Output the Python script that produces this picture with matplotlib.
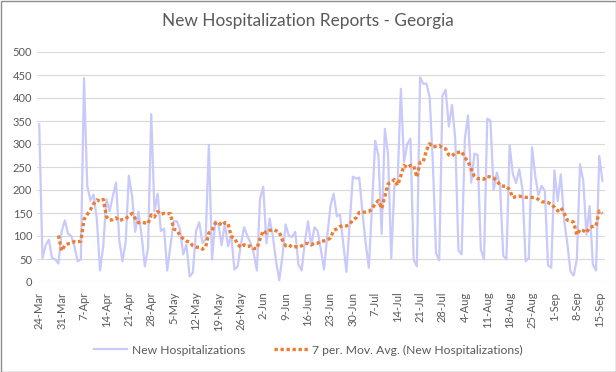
import numpy as np
import pandas as pd
import matplotlib
matplotlib.use("Agg")
import matplotlib.pyplot as plt
from matplotlib.patches import Rectangle

plt.rcParams['font.family'] = ['Lato', 'DejaVu Sans']

start_date = "2020-03-24"
new_hosp = [
    343, 52, 80, 92, 52, 49, 40, 110, 134, 105, 100, 78, 45, 49,
    443, 209, 177, 190, 136, 25, 78, 180, 154, 187, 216, 92, 45, 85,
    231, 187, 109, 153, 100, 34, 74, 365, 154, 192, 111, 116, 25, 78,
    132, 132, 114, 60, 81, 12, 20, 111, 130, 85, 92, 298, 49, 132,
    125, 80, 127, 78, 101, 27, 34, 81, 119, 101, 85, 63, 25, 181,
    207, 84, 138, 100, 45, 4, 56, 125, 100, 98, 109, 38, 25, 87,
    132, 78, 119, 111, 71, 27, 100, 165, 192, 143, 146, 85, 22, 125,
    229, 225, 227, 151, 85, 31, 165, 307, 274, 105, 333, 278, 52, 210,
    220, 420, 260, 300, 312, 49, 34, 445, 431, 431, 402, 260, 63, 47,
    405, 418, 338, 385, 311, 69, 60, 311, 362, 216, 279, 276, 71, 49,
    355, 351, 200, 238, 209, 57, 49, 297, 234, 215, 245, 202, 45, 52,
    293, 231, 189, 209, 198, 36, 31, 243, 176, 234, 136, 85, 23, 14,
    49, 256, 220, 103, 165, 38, 25, 274, 220,
]

dates = pd.date_range(start_date, periods=len(new_hosp), freq="D")
series = pd.Series(new_hosp, index=dates)
mov_avg = series.rolling(7).mean()

x = np.arange(len(series))
tick_pos = x[::7]
tick_labels = [f"{d.day}-{d.strftime('%b')}" for d in dates[::7]]

fig = plt.figure(figsize=(6.16, 3.72), dpi=100)
ax = fig.add_axes([37 / 616, 1 - 282 / 372, 568 / 616, 230 / 372])

ax.plot(x, series.values, color="#C9C9FA", lw=1.6, label="New Hospitalizations")
ax.plot(x, mov_avg.values, color="#ED7D31", lw=2.4, linestyle=(0, (1, 0.8)),
        label="7 per. Mov. Avg. (New Hospitalizations)")

ax.set_ylim(0, 500)
ax.set_yticks(np.arange(0, 501, 50))
ax.set_xlim(-0.7, len(series) - 0.2)
ax.set_xticks(tick_pos)
ax.set_xticklabels(tick_labels, rotation=90)
ax.grid(axis="y", color="#D9D9D9", lw=0.8)
ax.set_axisbelow(True)
for s in ax.spines.values():
    s.set_visible(False)
ax.axhline(0, color="#D9D9D9", lw=0.8, zorder=0)
ax.tick_params(length=0, labelsize=8, colors="#595959")
ax.tick_params(axis="x", pad=7)

fig.text(0.5, 1 - 21 / 372, "New Hospitalization Reports - Georgia",
         ha="center", va="center", fontsize=12.4, color="#595959")

leg = fig.legend(loc="center", bbox_to_anchor=(0.5, 1 - 350 / 372), ncol=2,
                 frameon=False, fontsize=8.7, handlelength=2.8,
                 handletextpad=0.35, columnspacing=2.4)
for t in leg.get_texts():
    t.set_color("#595959")

fig.patches.append(Rectangle((0.5 / 616, 0.5 / 372), 615 / 616, 371 / 372,
                             transform=fig.transFigure, fill=False,
                             edgecolor="#8C8C8C", lw=1))

fig.savefig("out.png", dpi=100)
